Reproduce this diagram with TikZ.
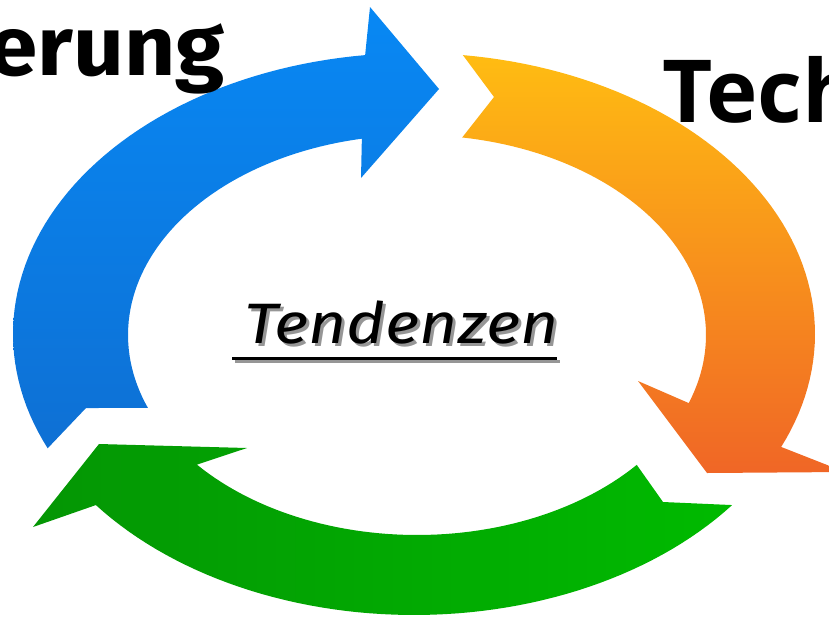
\documentclass[tikz,border=0pt]{standalone}
\usepackage{fontspec}
\setmainfont{Fira Sans}
\newfontfamily\techfont{Open Sans}
\begin{document}
\begin{tikzpicture}[x=1pt,y=-1pt]
\definecolor{bluetop}{RGB}{8,136,244}
\definecolor{bluebot}{RGB}{14,112,212}
\definecolor{orangetop}{RGB}{255,188,18}
\definecolor{orangebot}{RGB}{240,102,38}
\definecolor{greenleft}{RGB}{4,150,4}
\definecolor{greenright}{RGB}{0,186,0}
\definecolor{shadowgray}{RGB}{150,150,150}
\tikzset{
  bigword/.style={inner sep=0pt,text=black},
  title/.style={inner sep=0pt},
}
\useasboundingbox (0,0) rectangle (829,621);
\clip (0,0) rectangle (829,621);
% blue arrow
\shade[top color=bluetop,bottom color=bluebot]
  plot[domain=156:263,samples=60] ({414+401*cos(\x)},{334+281*sin(\x)})
  -- (370,7) -- (439,89) -- (361,178)
  -- plot[domain=259:158.6,samples=60] ({417+289*cos(\x)},{335+200*sin(\x)})
  -- (86,408) -- cycle;
% orange arrow
\shade[top color=orangetop,bottom color=orangebot]
  plot[domain=277:383.7,samples=60] ({414+401*cos(\x)},{334+281*sin(\x)})
  -- (845,472) -- (707,473) -- (638,381)
  -- plot[domain=379.9:279,samples=60] ({417+289*cos(\x)},{335+200*sin(\x)})
  -- (494,97) -- cycle;
% green arrow
\shade[left color=greenleft,right color=greenright]
  plot[domain=37.5:142.5,samples=60] ({414+401*cos(\x)},{334+281*sin(\x)})
  -- (33,527) -- (99,444) -- (247,448)
  -- plot[domain=139.6:40.5,samples=60] ({417+289*cos(\x)},{335+200*sin(\x)})
  -- (663,502) -- cycle;
% texts
\node[bigword,anchor=base east,font=\fontsize{84}{90}\selectfont\bfseries] (erung) at (225,75) {\scalebox{1.06}[1]{erung}};
\node[bigword,anchor=base west,font=\techfont\fontsize{87}{95}\selectfont\bfseries] (tech) at (662,122) {Tech};
\draw[shadowgray,line width=3pt] (235,361) -- (560,361);
\node[title,anchor=base west,text=shadowgray,font=\fontsize{57}{60}\selectfont\itshape] (tendshadow) at (247,346) {\scalebox{1.16}[1]{Tendenzen}};
\draw[black,line width=3pt] (232,358) -- (557,358);
\node[title,anchor=base west,text=black,font=\fontsize{57}{60}\selectfont\itshape] (tend) at (244,343) {\scalebox{1.16}[1]{Tendenzen}};
\end{tikzpicture}
\end{document}
